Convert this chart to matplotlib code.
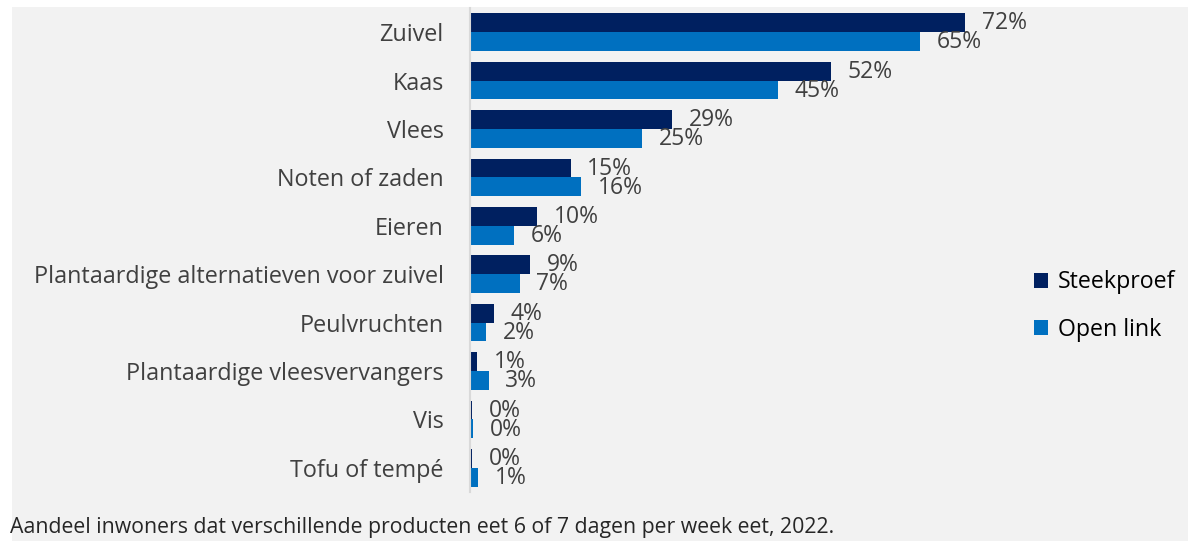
import matplotlib.pyplot as plt
from matplotlib.patches import Rectangle
import numpy as np

categories = ['Zuivel', 'Kaas', 'Vlees', 'Noten of zaden', 'Eieren',
              'Plantaardige alternatieven voor zuivel', 'Peulvruchten',
              'Plantaardige vleesvervangers', 'Vis', 'Tofu of tempé']
steekproef = [71.8, 52.3, 29.3, 14.6, 9.7, 8.7, 3.5, 1.0, 0.3, 0.3]
open_link = [65.2, 44.6, 24.9, 16.1, 6.4, 7.2, 2.3, 2.7, 0.4, 1.2]

DARK = '#002060'
BLUE = '#0070c0'
GREY_BG = '#f2f2f2'
TXT = '#404040'

plt.rcParams['font.family'] = ['Open Sans', 'DejaVu Sans']

fig = plt.figure(figsize=(11.88, 5.41), dpi=100, facecolor='white')
fig.patches.append(Rectangle((12 / 1188, 0), 1, 1 - 7 / 541, transform=fig.transFigure,
                             facecolor=GREY_BG, edgecolor='none', zorder=-10))

ax = fig.add_axes([470 / 1188, 49 / 541, 690 / 1188, 484 / 541])
ax.set_facecolor('none')

y = np.arange(len(categories))
h = 0.39
ax.barh(y - h / 2, steekproef, height=h, color=DARK, label='Steekproef')
ax.barh(y + h / 2, open_link, height=h, color=BLUE, label='Open link')

# data labels just past the bar ends
for i in range(len(categories)):
    ax.annotate(f'{steekproef[i]:.0f}%', (steekproef[i], y[i] - h / 2), xytext=(12, -0.5),
                textcoords='offset points', va='center', ha='left', fontsize=16.5, color=TXT)
    ax.annotate(f'{open_link[i]:.0f}%', (open_link[i], y[i] + h / 2), xytext=(12, -0.5),
                textcoords='offset points', va='center', ha='left', fontsize=16.5, color=TXT)

ax.set_xlim(0, 100)
ax.set_ylim(len(categories) - 0.5, -0.5)
ax.set_yticks(y)
ax.set_yticklabels(categories, fontsize=16.8, color=TXT)
ax.tick_params(axis='y', length=0, pad=19)
ax.set_xticks([])
for s in ['top', 'right', 'bottom']:
    ax.spines[s].set_visible(False)
ax.spines['left'].set_color('#d9d9d9')
ax.spines['left'].set_linewidth(1.5)

ax.legend(loc='center left', bbox_to_anchor=(1013 / 1188, 1 - 306 / 541), bbox_transform=fig.transFigure,
          frameon=False, fontsize=16.7, handlelength=0.6, handleheight=0.6, handletextpad=0.45,
          labelspacing=1.0, labelcolor='#000000')

fig.text(10 / 1188, 1 - 528 / 541, 'Aandeel inwoners dat verschillende producten eet 6 of 7 dagen per week eet, 2022.',
         fontsize=15.3, color='#262626', va='center', ha='left')

fig.savefig('out.png', dpi=100, facecolor=fig.get_facecolor())
